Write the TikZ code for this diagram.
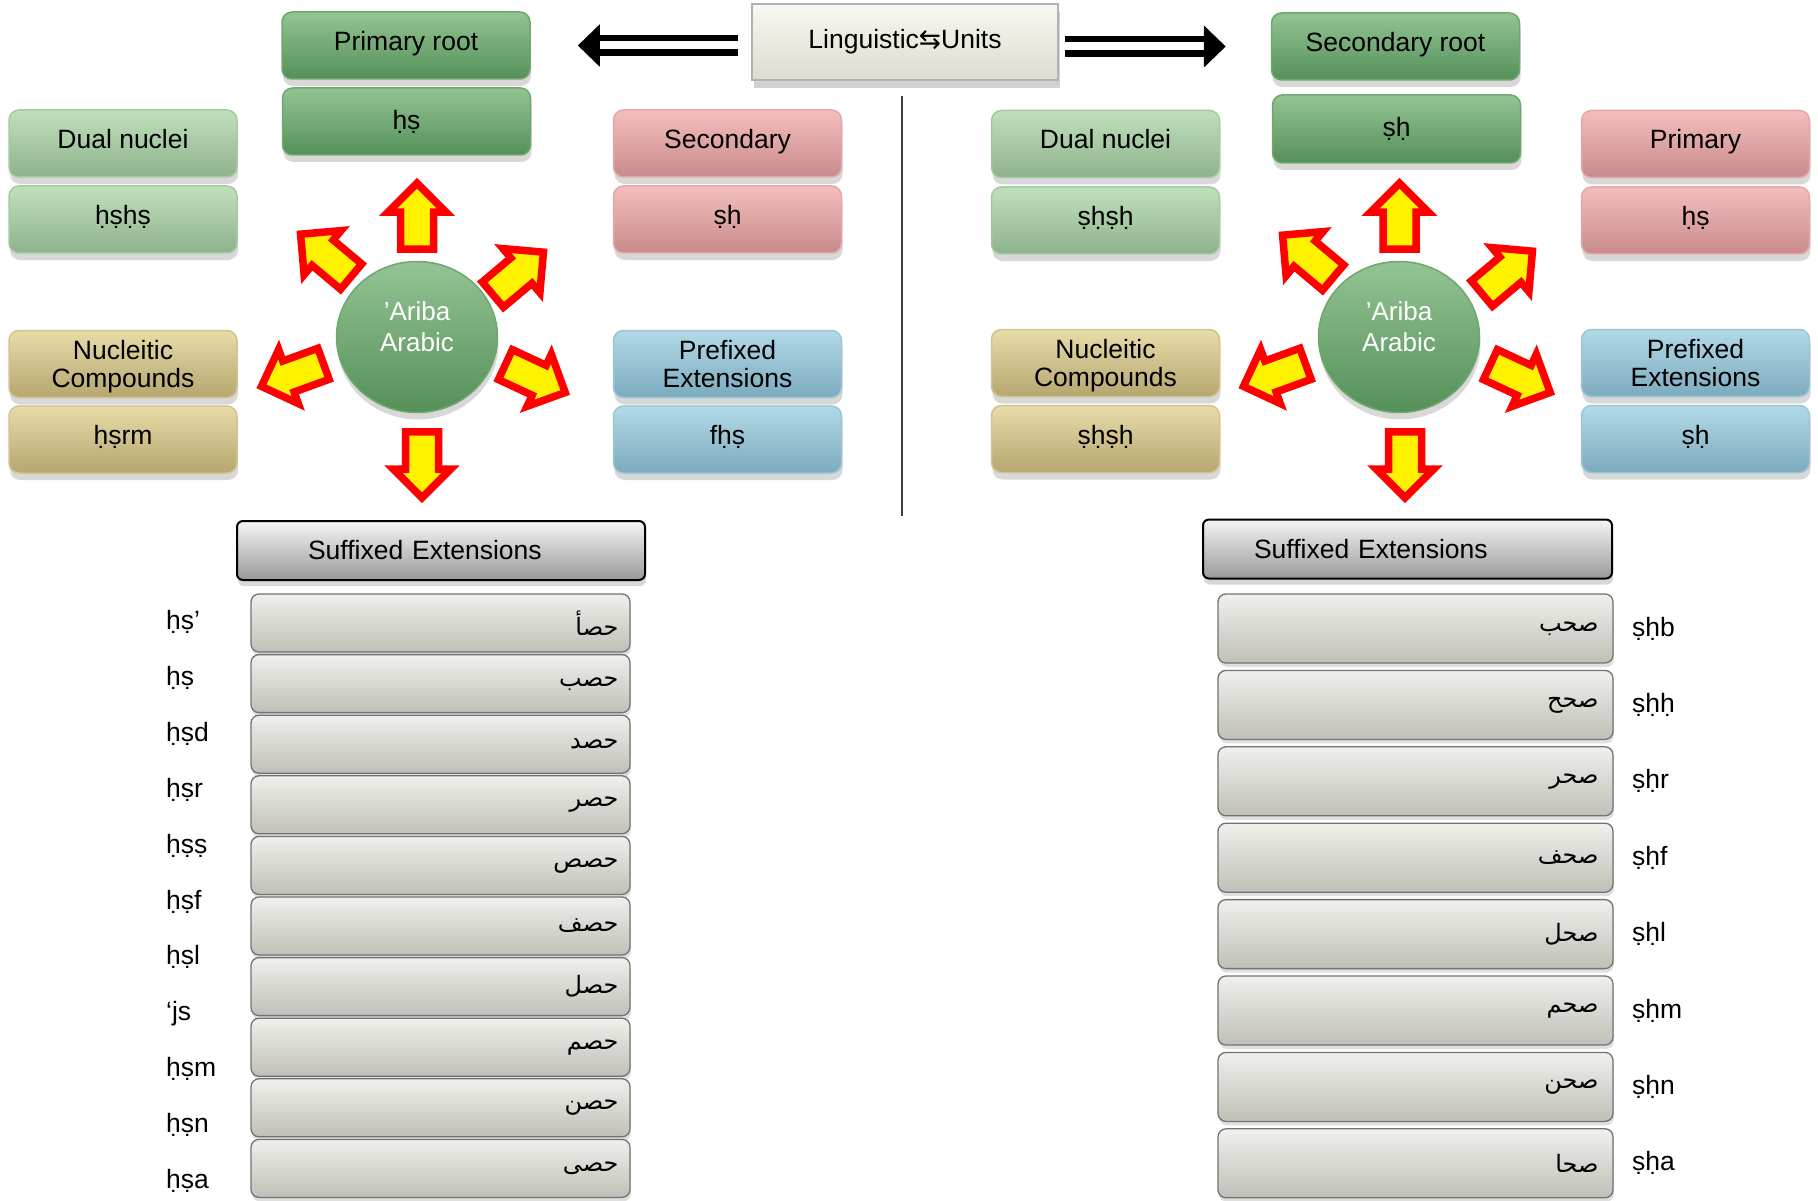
\documentclass[tikz,border=0pt]{standalone}
\usepackage{fontspec}
\setmainfont{Liberation Sans}
\newfontfamily\arabicfont[Script=Arabic]{DejaVu Sans}
\newfontfamily\arrowfont{DejaVu Sans}
\TeXXeTstate=1
\usetikzlibrary{arrows.meta,shapes.arrows,shapes.geometric,shadows}

\definecolor{rootTop}{RGB}{148,196,148}
\definecolor{rootBot}{RGB}{84,144,88}
\definecolor{rootLine}{RGB}{112,166,112}
\definecolor{dualTop}{RGB}{192,224,188}
\definecolor{dualBot}{RGB}{142,178,140}
\definecolor{dualLine}{RGB}{168,200,164}
\definecolor{secTop}{RGB}{245,190,190}
\definecolor{secBot}{RGB}{200,138,138}
\definecolor{secLine}{RGB}{228,168,168}
\definecolor{compTop}{RGB}{232,220,168}
\definecolor{compBot}{RGB}{182,166,112}
\definecolor{compLine}{RGB}{208,196,144}
\definecolor{prefTop}{RGB}{178,218,232}
\definecolor{prefBot}{RGB}{124,170,190}
\definecolor{prefLine}{RGB}{156,198,214}
\definecolor{unitTop}{RGB}{248,247,242}
\definecolor{unitBot}{RGB}{222,220,206}
\definecolor{rowTop}{RGB}{240,240,236}
\definecolor{rowMid}{RGB}{220,220,214}
\definecolor{rowBot}{RGB}{192,192,184}

\newcommand{\unitfont}{\fontsize{26.5}{28}\selectfont}
\newcommand{\wordfont}{\arabicfont\fontsize{24}{26}\selectfont}

\tikzset{
  unitbox/.style={rectangle, rounded corners=10pt, minimum width=228pt,
    minimum height=67pt, inner sep=2pt, align=center, font=\unitfont,
    text height=20pt, text depth=10pt, line width=1.5pt,
    drop shadow={shadow xshift=1pt, shadow yshift=-7pt, opacity=0.3}},
  natural/.style={text height={}, text depth={}},
  rootbox/.style={unitbox, minimum width=248pt, draw=rootLine, top color=rootTop, bottom color=rootBot},
  dualbox/.style={unitbox, draw=dualLine, top color=dualTop, bottom color=dualBot},
  secbox/.style={unitbox, draw=secLine, top color=secTop, bottom color=secBot},
  compbox/.style={unitbox, draw=compLine, top color=compTop, bottom color=compBot},
  prefbox/.style={unitbox, draw=prefLine, top color=prefTop, bottom color=prefBot},
  core/.style={ellipse, minimum width=161pt, minimum height=151pt, line width=1.5pt,
    draw=rootLine, top color=rootTop, bottom color=rootBot,
    drop shadow={shadow xshift=1pt, shadow yshift=-7pt, opacity=0.3}},
  coretext/.style={text=white, align=center, font=\fontsize{26}{31}\selectfont, yshift=10pt},
  burst/.style={single arrow, draw=red, fill=yellow, line width=7.5pt, anchor=tail,
    minimum height=66pt, minimum width=0pt, inner xsep=0pt, inner ysep=12.75pt,
    single arrow head extend=12.25pt},
  unitsbox/.style={rectangle, minimum width=306pt, minimum height=76pt, font=\unitfont,
    draw=black!30, line width=1.5pt, top color=unitTop, bottom color=unitBot,
    drop shadow={shadow xshift=2pt, shadow yshift=-8pt, opacity=0.35}},
  bigarrow/.style={draw=black, line width=6.5pt, double=white, double distance=8pt,
    -{Triangle[length=22pt,width=41pt]}},
  header/.style={rectangle, rounded corners=6pt, minimum height=59pt, font=\unitfont,
    align=left, draw=black, line width=2pt, top color=black!4, bottom color=black!40,
    drop shadow={shadow xshift=1pt, shadow yshift=-6pt, opacity=0.3}},
  rowbox/.style={rectangle, rounded corners=8pt, draw=black!55, line width=1.3pt,
    top color=rowTop, middle color=rowMid, bottom color=rowBot,
    drop shadow={shadow xshift=1pt, shadow yshift=-4pt, opacity=0.25}},
  arabword/.style={anchor=east, font=\wordfont, inner sep=0pt},
  translit/.style={anchor=west, font=\unitfont, inner sep=0pt},
}

\begin{document}
\begin{tikzpicture}[x=1pt, y=-1pt]
\useasboundingbox (0,0) rectangle (1818,1201);
\fill[white] (0,0) rectangle (1818,1201);

% title and the two double arrows
\node[unitsbox] (units) at (905,42) {Linguistic{\arrowfont ⇆}Units};

% left half
\node[rootbox] (lroot) at (406,45.5) {Primary root};
\node[rootbox, natural] (lrootval) at (406.5,121.5) {ḥṣ};
\node[dualbox] (ldual) at (123,143.5) {Dual nuclei};
\node[dualbox] (ldualval) at (123,219.5) {ḥṣḥṣ};
\node[secbox] (lsec) at (727.5,143.5) {Secondary};
\node[secbox] (lsecval) at (727.5,219.5) {ṣḥ};
\node[compbox, natural] (lcomp) at (123,364) {Nucleitic\\\raisebox{0pt}[\height][0pt]{Compounds}};
\node[compbox] (lcompval) at (123,439.5) {ḥṣrm};
\node[prefbox, natural] (lpref) at (727.5,364) {Prefixed\\Extensions};
\node[prefbox] (lprefval) at (727.5,439.5) {fḥṣ};
\node[core, label={[name=lcoretext, coretext]center:’Ariba\\Arabic}] (lcore) at (417,337) {};

\foreach \ang/\dx/\dy [count=\k] in {90/0/-84, 140/-63/-58, 40/73/-40, 200/-90/25.5, -25/85/26, -90/5/91}
  \node[burst, rotate=\ang] (lburst\k) at ([shift={(\dx,\dy)}]lcore) {};

\draw[bigarrow, shorten <=13pt, shorten >=47pt] (units.west |- lroot.east) -- (lroot.east);

% right half
\node[rootbox] (rroot) at (1395.5,46.5) {Secondary root};
\node[rootbox, natural, minimum height=68pt] (rrootval) at (1396.5,129) {ṣḥ};
\node[dualbox] (rdual) at (1105.5,144) {Dual nuclei};
\node[dualbox] (rdualval) at (1105.5,220.5) {ṣḥṣḥ};
\node[secbox] (rprim) at (1695.5,144) {Primary};
\node[secbox] (rprimval) at (1695.5,220.5) {ḥṣ};
\node[compbox, natural] (rcomp) at (1105.5,363) {Nucleitic\\\raisebox{0pt}[\height][0pt]{Compounds}};
\node[compbox] (rcompval) at (1105.5,439) {ṣḥṣḥ};
\node[prefbox, natural] (rpref) at (1695.5,363) {Prefixed\\Extensions};
\node[prefbox] (rprefval) at (1695.5,439) {ṣḥ};
\node[core, label={[name=rcoretext, coretext]center:’Ariba\\Arabic}] (rcore) at (1399,337) {};

\foreach \ang/\dx/\dy [count=\k] in {90/0.5/-84, 140/-63/-57, 40/80/-41, 200/-90/25.5, -25/88/26, -90/6/91}
  \node[burst, rotate=\ang] (rburst\k) at ([shift={(\dx,\dy)}]rcore) {};

\draw[bigarrow, shorten <=6pt, shorten >=45pt] (units.east |- rroot.west) -- (rroot.west);

% divider
\draw[line width=1.2pt, black!75] (902,96) -- (902,516);

% suffixed extensions, left
\node[header, minimum width=408pt, text width=266pt, inner xsep=71pt] (lsuf) at (441,550.5) {Suffixed Extensions};
\foreach \word [count=\k] in {حصأ,حصب,حصد,حصر,حصص,حصف,حصل,حصم,حصن,حصى}{
  \node[rowbox, minimum width=379pt, minimum height=58pt] (lrow\k) at (440.5,{623+60.6*(\k-1)}) {};
  \node[arabword] (lword\k) at ([xshift=-12pt]lrow\k.east) {\beginR\word\endR};
}
\foreach \tr [count=\k] in {ḥṣ’,ḥṣ,ḥṣd,ḥṣr,ḥṣṣ,ḥṣf,ḥṣl,‘js,ḥṣm,ḥṣn,ḥṣa}
  \node[translit] (ltr\k) at (166,{622+55.9*(\k-1)}) {\tr};

% suffixed extensions, right
\node[header, minimum width=409pt, text width=307pt, inner xsep=51pt] (rsuf) at (1407.5,549) {Suffixed Extensions};
\foreach \word/\tr [count=\k] in {صحب/ṣḥb,صحح/ṣḥḥ,صحر/ṣḥr,صحف/ṣḥf,صحل/ṣḥl,صحم/ṣḥm,صحن/ṣḥn,صحا/ṣḥa}{
  \node[rowbox, minimum width=395pt, minimum height=69pt] (rrow\k) at (1415.5,{628.5+76.4*(\k-1)}) {};
  \node[arabword] (rword\k) at ([xshift=-15pt]rrow\k.east) {\beginR\word\endR};
  \node[translit] (rtr\k) at (1632,{628.5+76.4*(\k-1)}) {\tr};
}
\end{tikzpicture}
\end{document}
